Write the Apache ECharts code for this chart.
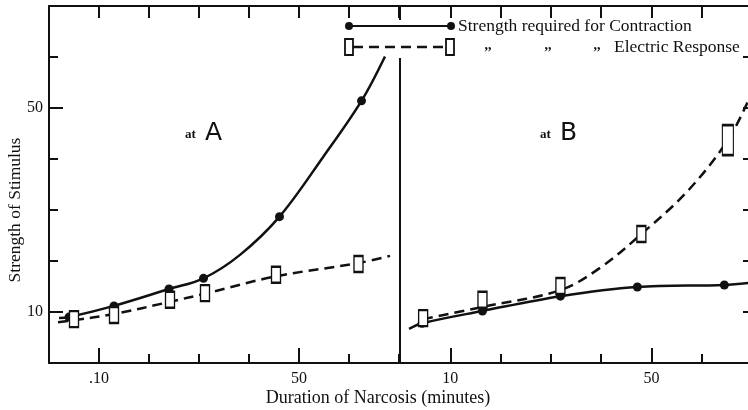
<!DOCTYPE html>
<html>
<head>
<meta charset="utf-8">
<script src="https://cdn.jsdelivr.net/npm/echarts@6/dist/echarts.min.js"></script>
<style>
  html, body { margin: 0; padding: 0; background: #fff; }
  #chart { width: 748px; height: 410px; }
</style>
</head>
<body>
<div id="chart"></div>
<script>
// axis ticks (linear, both panels 0..70, minor tick every 10)
const tickStep = 10;
const majorTicks = [10, 50];

// at A: observed points
const contractionA = [[4, 9.0], [13, 11.2], [24, 14.5], [30.9, 16.6], [46.1, 28.7], [62.5, 51.4]];
const electricA = [[5, 8.6], [13, 9.4], [24.2, 12.4], [31.2, 13.7], [45.4, 17.3], [61.9, 19.4]];
// at A: drawn curves
const contractionCurveA = [[2, 8.8], [4, 9.0], [13, 11.2], [24, 14.5], [30.9, 16.6], [38.2, 21.2], [46.1, 28.7], [54.9, 40.5], [62.5, 51.4], [67.2, 60.1]];
const electricCurveA = [[1.8, 8.0], [5, 8.4], [13, 9.6], [24.2, 12.0], [31.2, 13.6], [45.4, 17.0], [61.9, 19.6], [68.2, 21.0]];

// at B: observed points
const contractionB = [[4.4, 7.8], [16.4, 10.2], [31.9, 13.1], [47.2, 14.9], [64.5, 15.3]];
const electricB = [[4.6, 8.8], [16.4, 12.4], [31.9, 15.1], [48, 25.3], [65.2, 43.7]];
// at B: drawn curves
const contractionCurveB = [[1.8, 6.7], [4.4, 7.8], [16.4, 10.2], [31.9, 13.1], [47.2, 14.9], [64.5, 15.3], [69.5, 15.7]];
const electricCurveB = [[4.6, 8.6], [16.4, 11.0], [31.9, 14.3], [40, 18.8], [48, 25.3], [57, 33.5], [65.2, 43.7], [69.5, 52]];

const ink = '#111';
const serif = '"Liberation Serif", "DejaVu Serif", serif';

const chart = echarts.init(document.getElementById('chart'));

const tickStyle = { color: ink, width: 2 };
const axisLine = { show: true, onZero: false, lineStyle: { color: ink, width: 2 } };
const valueAxis = (grid, pos, extra) => Object.assign({
  type: 'value', gridIndex: grid, position: pos, min: 0, max: 70, interval: tickStep,
  splitLine: { show: false }, axisLine: { show: false, onZero: false }, axisLabel: { show: false },
  axisTick: { show: false }
}, extra);
const minor = len => ({ show: true, inside: true, length: len, lineStyle: tickStyle });
const major = len => ({ show: true, inside: true, length: len, customValues: majorTicks, lineStyle: tickStyle });
const majorLabel = (margin, fmt) => ({
  show: true, customValues: majorTicks, color: ink, fontFamily: serif, fontSize: 16, margin, formatter: fmt
});

const xAxes = [
  valueAxis(0, 'bottom', { axisLine, axisTick: minor(9) }),
  valueAxis(0, 'top', { axisLine, axisTick: minor(12) }),
  valueAxis(1, 'bottom', { axisLine, axisTick: minor(9) }),
  valueAxis(1, 'top', { axisLine, axisTick: minor(12) }),
  valueAxis(2, 'bottom', { axisTick: major(15), axisLabel: majorLabel(8, v => (v === 10 ? '.10' : String(v))) }),
  valueAxis(3, 'bottom', { axisTick: major(15), axisLabel: majorLabel(8, v => String(v)) })
];
const yAxes = [
  valueAxis(0, 'left', { axisLine, axisTick: minor(9) }),
  valueAxis(1, 'left', { axisLine }),
  valueAxis(1, 'right', { axisLine, axisTick: minor(9) }),
  valueAxis(2, 'left', { axisTick: major(14), axisLabel: majorLabel(6, v => String(v)) }),
  valueAxis(3, 'left', {})
];

const curve = (data, xi, yi, dashed) => ({
  type: 'line', data, xAxisIndex: xi, yAxisIndex: yi, smooth: 0.35,
  symbol: 'none', silent: true, z: 2,
  lineStyle: { color: ink, width: 2.5, type: dashed ? [10, 6] : 'solid' }
});
const dots = (data, xi, yi) => ({
  type: 'scatter', data, xAxisIndex: xi, yAxisIndex: yi, symbol: 'circle',
  symbolSize: 9, itemStyle: { color: ink, opacity: 1 }, z: 4
});
const boxes = (data, xi, yi, tallIdx) => ({
  type: 'scatter', data, xAxisIndex: xi, yAxisIndex: yi, symbol: 'rect',
  symbolSize: (v, p) => (p.dataIndex === tallIdx ? [11, 30] : [9, 16]),
  itemStyle: { color: '#fff', borderColor: ink, borderWidth: 1.8, opacity: 1 }, z: 5
});

const gridA = { left: 49, top: 6, width: 350, height: 357, containLabel: false, outerBoundsMode: 'none' };
const gridB = { left: 400, top: 6, width: 352, height: 357, containLabel: false, outerBoundsMode: 'none' };

const caption = (x, letter) => [
  { type: 'text', z: 60, x, y: 135, style: { text: 'at', font: 'bold 13px ' + serif, fill: ink, verticalAlign: 'middle' } },
  { type: 'text', z: 60, x: x + 20, y: 133, style: { text: letter, font: '25px "DejaVu Sans", sans-serif', fill: ink, verticalAlign: 'middle' } }
];

chart.setOption({
  backgroundColor: '#fff',
  animation: false,
  grid: [gridA, gridB, gridA, gridB],
  xAxis: xAxes,
  yAxis: yAxes,
  series: [
    curve(contractionCurveA, 0, 0, false),
    curve(electricCurveA, 0, 0, true),
    dots(contractionA, 0, 0),
    boxes(electricA, 0, 0, -1),
    curve(contractionCurveB, 2, 1, false),
    curve(electricCurveB, 2, 1, true),
    dots(contractionB, 2, 1),
    boxes(electricB, 2, 1, 4)
  ],
  graphic: [
    // hide the top of the divider behind the key
    { type: 'rect', z: 50, shape: { x: 394, y: 20, width: 12, height: 38 }, style: { fill: '#fff' } },
    // key, row 1
    { type: 'line', z: 60, shape: { x1: 349, y1: 26, x2: 451, y2: 26 }, style: { stroke: ink, lineWidth: 2 } },
    { type: 'circle', z: 61, shape: { cx: 349, cy: 26, r: 4 }, style: { fill: ink } },
    { type: 'circle', z: 61, shape: { cx: 451, cy: 26, r: 4 }, style: { fill: ink } },
    { type: 'text', z: 60, x: 458, y: 26, style: { text: 'Strength required for Contraction', font: '17.5px ' + serif, fill: ink, verticalAlign: 'middle' } },
    // key, row 2
    { type: 'line', z: 60, shape: { x1: 353, y1: 47, x2: 446, y2: 47 }, style: { stroke: ink, lineWidth: 2.5, lineDash: [10, 6] } },
    { type: 'rect', z: 61, shape: { x: 345, y: 39, width: 8, height: 16 }, style: { fill: '#fff', stroke: ink, lineWidth: 1.8 } },
    { type: 'rect', z: 61, shape: { x: 446, y: 39, width: 8, height: 16 }, style: { fill: '#fff', stroke: ink, lineWidth: 1.8 } },
    { type: 'text', z: 60, x: 488, y: 45, style: { text: ',,', font: 'bold 14px ' + serif, fill: ink, verticalAlign: 'middle', align: 'center' } },
    { type: 'text', z: 60, x: 548, y: 45, style: { text: ',,', font: 'bold 14px ' + serif, fill: ink, verticalAlign: 'middle', align: 'center' } },
    { type: 'text', z: 60, x: 597, y: 45, style: { text: ',,', font: 'bold 14px ' + serif, fill: ink, verticalAlign: 'middle', align: 'center' } },
    { type: 'text', z: 60, x: 614, y: 47, style: { text: 'Electric Response', font: '17.5px ' + serif, fill: ink, verticalAlign: 'middle' } },
    // panel captions
    ...caption(185, 'A'),
    ...caption(540, 'B'),
    // axis titles
    { type: 'text', z: 60, x: 15, y: 210, rotation: Math.PI / 2, style: {
      text: 'Strength of Stimulus', font: '17.5px ' + serif, fill: ink, align: 'center', verticalAlign: 'middle'
    } },
    { type: 'text', z: 60, x: 378, y: 398, style: {
      text: 'Duration of Narcosis (minutes)', font: '18px ' + serif, fill: ink, align: 'center', verticalAlign: 'middle'
    } }
  ]
});
</script>
</body>
</html>
